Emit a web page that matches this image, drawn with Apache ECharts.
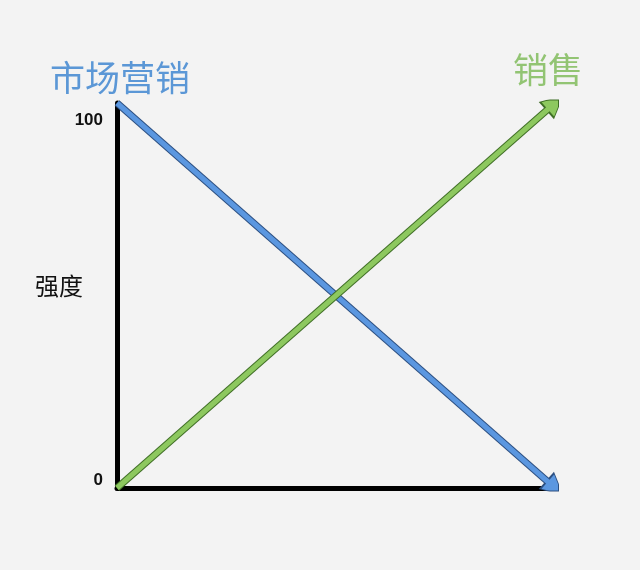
<!DOCTYPE html>
<html>
<head>
<meta charset="utf-8">
<script src="https://cdn.jsdelivr.net/npm/echarts@6/dist/echarts.min.js"></script>
<style>
html,body{margin:0;padding:0;background:#f3f3f3;}
#main{width:640px;height:570px;}
</style>
</head>
<body>
<div id="main"></div>
<script>
// Data
var yTicks = [0, 100];
var marketingName = '市场营销';
var salesName = '销售';
var axisName = '强度';
var marketingLine = [[0, 100], [100, 0]];
var salesLine = [[0, 0], [100, 100]];

var chart = echarts.init(document.getElementById('main'));
var cjk = '"Noto Sans CJK SC", "Noto Sans", sans-serif';

function arrowSeries(coords, color, width, size, z) {
  return {
    type: 'lines',
    coordinateSystem: 'cartesian2d',
    z: z,
    silent: true,
    symbol: ['none', 'triangle'],
    symbolSize: size,
    lineStyle: { color: color, width: width, opacity: 1, cap: 'butt' },
    data: [{ coords: coords }]
  };
}

chart.setOption({
  backgroundColor: '#f3f3f3',
  animation: false,
  title: [
    { text: marketingName, left: 45, top: 55,
      textStyle: { color: '#5b97d6', fontSize: 35, fontWeight: 'normal', fontFamily: cjk } },
    { text: salesName, left: 508, top: 47,
      textStyle: { color: '#92c473', fontSize: 35, fontWeight: 'normal', fontFamily: cjk } }
  ],
  grid: { left: 117, right: 85, top: 103, bottom: 82 },
  xAxis: {
    type: 'value', min: 0, max: 100,
    axisLine: { show: true, lineStyle: { color: '#000', width: 5 } },
    axisTick: { show: false }, axisLabel: { show: false }, splitLine: { show: false }
  },
  yAxis: {
    type: 'value', min: yTicks[0], max: yTicks[1], interval: 100,
    name: '{a|' + axisName + '}', nameLocation: 'middle', nameRotate: 0, nameGap: 34,
    nameMoveOverlap: false,
    nameTextStyle: {
      color: '#111', fontSize: 24, fontFamily: cjk,
      rich: { a: { color: '#111', fontSize: 24, fontFamily: cjk, padding: [0, 0, 20, 0] } }
    },
    axisLine: { show: true, lineStyle: { color: '#000', width: 5 } },
    axisTick: { show: false }, splitLine: { show: false },
    axisLabel: {
      margin: 14, color: '#111', fontSize: 17, fontWeight: 'bold', fontFamily: 'Liberation Sans, Arial, sans-serif',
      formatter: function (v) { return v === yTicks[1] ? '{hi|' + v + '}' : '{lo|' + v + '}'; },
      rich: {
        hi: { fontSize: 17, fontWeight: 'bold', color: '#111', padding: [34, 0, 0, 0] },
        lo: { fontSize: 17, fontWeight: 'bold', color: '#111', padding: [0, 0, 16, 0] }
      }
    }
  },
  series: [
    arrowSeries(marketingLine, '#2c4f80', 7, [31, 23], 2),
    arrowSeries(marketingLine, '#5b97e0', 5, [26, 19], 3),
    arrowSeries(salesLine, '#3f6e26', 7, [31, 23], 4),
    arrowSeries(salesLine, '#8dc85f', 5, [26, 19], 5)
  ]
});
</script>
</body>
</html>
